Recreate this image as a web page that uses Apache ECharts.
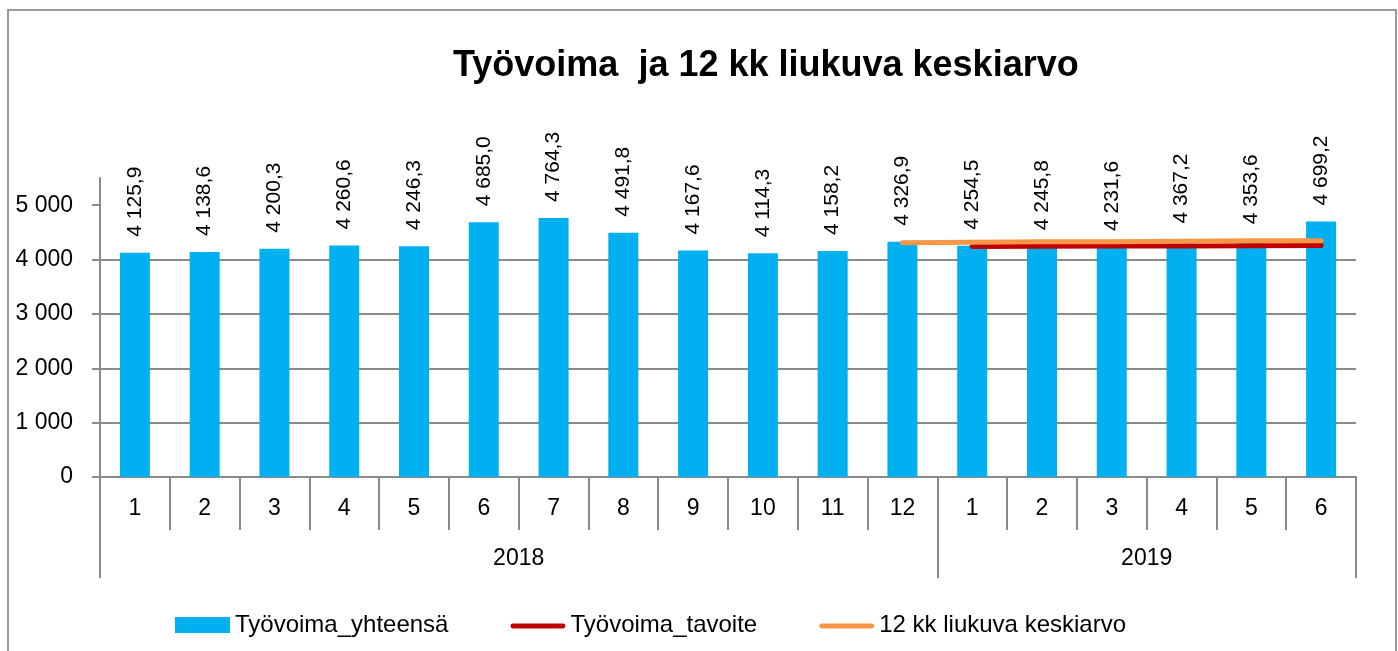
<!DOCTYPE html>
<html>
<head>
<meta charset="utf-8">
<script src="https://cdn.jsdelivr.net/npm/echarts@6/dist/echarts.min.js"></script>
<style>
  html, body { margin: 0; padding: 0; background: #fff; }
  #chart { width: 1398px; height: 651px; position: absolute; left: 0; top: 0; }
  #frame { position: absolute; left: 7px; top: 9px; width: 1386px; height: 700px; border: 2px solid #9a9a9a; pointer-events: none; }
</style>
</head>
<body>
<div id="chart"></div>
<div id="frame"></div>
<script>
const months = ['1','2','3','4','5','6','7','8','9','10','11','12','1','2','3','4','5','6'];
const years = ['2018', '2019'];
const yearBounds = [0, 12, 18];
const yearCenters = [6, 15];
const tyovoima = [4125.9, 4138.6, 4200.3, 4260.6, 4246.3, 4685.0, 4764.3, 4491.8, 4167.6, 4114.3, 4158.2, 4326.9,
                  4254.5, 4245.8, 4231.6, 4367.2, 4353.6, 4699.2];
const tavoite = [null, null, null, null, null, null, null, null, null, null, null, null,
                 4240, 4243, 4247, 4250, 4254, 4257];
const liukuva = [null, null, null, null, null, null, null, null, null, null, null, 4307,
                 4317, 4326, 4329, 4338, 4347, 4348];
const yTicks = [0, 1000, 2000, 3000, 4000, 5000];

const FONT = '"Liberation Sans", Arial, sans-serif';
const AXIS = '#8a8a8a';
// thin horizontal line icon inside a 55x16 box (tiny corner points keep the box size)
const LINE_ICON = 'path://M0,0L0.01,0L0,0.01Z M2,6.5L53,6.5A2.5,2.5,0,0,1,53,11.5L2,11.5A2.5,2.5,0,0,1,2,6.5Z M55,16L54.99,16L55,15.99Z';

function fmtThousands(v) {
  return String(Math.round(v)).replace(/\B(?=(\d{3})+(?!\d))/g, ' ');
}
function fmtLabel(v) {
  const s = v.toFixed(1).split('.');
  return s[0].replace(/\B(?=(\d{3})+(?!\d))/g, ' ') + ',' + s[1];
}

const chart = echarts.init(document.getElementById('chart'), null, { renderer: 'canvas' });
chart.setOption({
  animation: false,
  backgroundColor: '#fff',
  title: {
    text: 'Työvoima  ja 12 kk liukuva keskiarvo',
    left: 448, top: 43,
    textStyle: { fontFamily: FONT, fontSize: 36, fontWeight: 'bold', color: '#000' }
  },
  grid: { left: 100, right: 42, top: 178, bottom: 174, containLabel: false },
  legend: {
    left: 170, top: 608,
    itemWidth: 55, itemHeight: 16, itemGap: 62,
    textStyle: { fontFamily: FONT, fontSize: 24, color: '#000' },
    data: [
      { name: 'Työvoima_yhteensä', icon: 'rect' },
      { name: 'Työvoima_tavoite', icon: LINE_ICON, itemStyle: { color: '#C00000' } },
      { name: '12 kk liukuva keskiarvo', icon: LINE_ICON, itemStyle: { color: '#F79646' } }
    ]
  },
  xAxis: [
    {
      type: 'category', data: months, position: 'bottom',
      boundaryGap: true,
      axisLine: { show: true, lineStyle: { color: AXIS, width: 2 } },
      axisTick: { show: true, alignWithLabel: false, interval: 0, length: 53, lineStyle: { color: AXIS, width: 2 } },
      axisLabel: { interval: 0, fontFamily: FONT, fontSize: 23, color: '#000', margin: 20 },
      splitLine: { show: false }
    },
    {
      type: 'value', min: 0, max: 18, position: 'bottom',
      axisLine: { show: false },
      axisTick: { show: true, customValues: yearBounds, length: 101, lineStyle: { color: AXIS, width: 2 } },
      axisLabel: {
        customValues: yearCenters, fontFamily: FONT, fontSize: 23, color: '#000', margin: 70,
        formatter: function (v) { return years[yearCenters.indexOf(v)] || ''; }
      },
      splitLine: { show: false }
    }
  ],
  yAxis: {
    type: 'value', min: 0, max: 5500, interval: 1000,
    axisLine: { show: true, onZero: false, lineStyle: { color: AXIS, width: 2 } },
    axisTick: { show: true, customValues: yTicks, length: 8, lineStyle: { color: AXIS, width: 2 } },
    axisLabel: {
      customValues: yTicks, fontFamily: FONT, fontSize: 23, color: '#000', margin: 27,
      formatter: fmtThousands
    },
    splitLine: { show: true, showMaxLine: false, lineStyle: { color: AXIS, width: 2 } }
  },
  series: [
    {
      name: 'Työvoima_yhteensä', type: 'bar', xAxisIndex: 0, data: tyovoima,
      barWidth: 30,
      itemStyle: { color: '#00B0F0' },
      label: {
        show: true, position: 'top', rotate: 90, distance: 16,
        align: 'left', verticalAlign: 'middle',
        fontFamily: FONT, fontSize: 21, color: '#000',
        formatter: function (p) { return fmtLabel(p.value); }
      }
    },
    {
      name: 'Työvoima_tavoite', type: 'line', xAxisIndex: 0, data: tavoite,
      symbol: 'none', connectNulls: false,
      itemStyle: { color: '#C00000' },
      lineStyle: { color: '#C00000', width: 5, cap: 'round' }
    },
    {
      name: '12 kk liukuva keskiarvo', type: 'line', xAxisIndex: 0, data: liukuva,
      symbol: 'none', connectNulls: false,
      itemStyle: { color: '#F79646' },
      lineStyle: { color: '#F79646', width: 5, cap: 'round' }
    }
  ]
});
</script>
</body>
</html>
